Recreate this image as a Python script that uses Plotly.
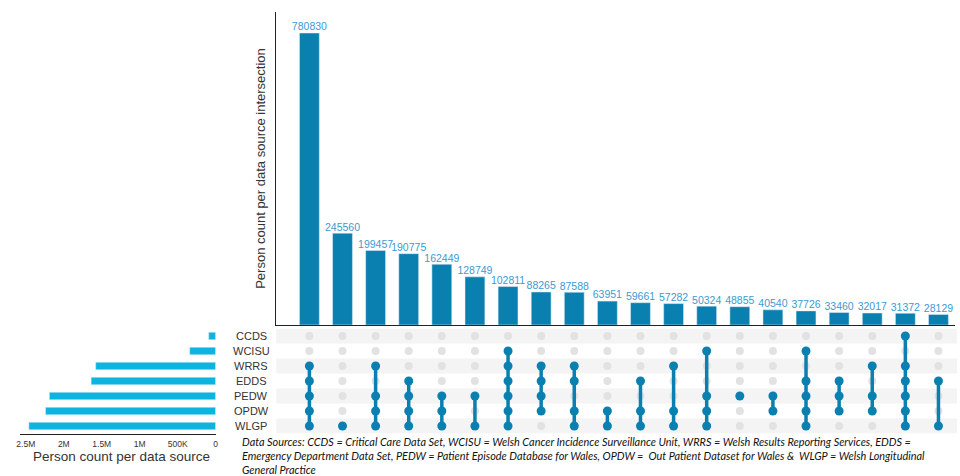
import plotly.graph_objects as go

# ---------------- data ----------------
sets = ["CCDS", "WCISU", "WRRS", "EDDS", "PEDW", "OPDW", "WLGP"]
set_sizes = [92000, 342000, 1580000, 1640000, 2190000, 2240000, 2460000]

intersection_counts = [780830, 245560, 199457, 190775, 162449, 128749, 102811,
                       88265, 87588, 63951, 59661, 57282, 50324, 48855, 40540,
                       37726, 33460, 32017, 31372, 28129]
intersection_members = [
    ["WRRS", "EDDS", "PEDW", "OPDW", "WLGP"],
    ["WLGP"],
    ["WRRS", "PEDW", "OPDW", "WLGP"],
    ["EDDS", "PEDW", "OPDW", "WLGP"],
    ["PEDW", "OPDW", "WLGP"],
    ["PEDW", "WLGP"],
    ["WCISU", "WRRS", "EDDS", "PEDW", "OPDW", "WLGP"],
    ["WRRS", "EDDS", "PEDW", "OPDW"],
    ["WRRS", "EDDS", "OPDW", "WLGP"],
    ["OPDW", "WLGP"],
    ["EDDS", "OPDW", "WLGP"],
    ["WRRS", "OPDW", "WLGP"],
    ["WCISU", "PEDW", "OPDW", "WLGP"],
    ["PEDW"],
    ["PEDW", "OPDW"],
    ["WCISU", "EDDS", "PEDW", "OPDW", "WLGP"],
    ["EDDS", "PEDW", "OPDW"],
    ["WRRS", "PEDW", "OPDW"],
    ["CCDS", "WRRS", "EDDS", "PEDW", "OPDW", "WLGP"],
    ["EDDS", "WLGP"],
]
size_tick_vals = [0, 500000, 1000000, 1500000, 2000000, 2500000]
size_tick_text = ["0", "500K", "1M", "1.5M", "2M", "2.5M"]

footnote = ("<i>Data Sources: CCDS = Critical Care Data Set, WCISU = Welsh Cancer Incidence Surveillance Unit, "
            "WRRS = Welsh Results Reporting Services, EDDS =<br>"
            "Emergency Department Data Set, PEDW = Patient Episode Database for Wales, OPDW =  Out Patient "
            "Dataset for Wales &amp;  WLGP = Welsh Longitudinal<br>General Practice</i>")

# ---------------- layout helpers ----------------
W, H = 960, 476
def fx(px):
    return px / W
def fy(py):
    return 1 - py / H

BAR = "#0a80b0"
HBAR = "#0db4e0"
LABEL = "#3d9ad2"
GREY = "#e2e2e2"
TXT = "#333333"

n = len(intersection_counts)
xs = list(range(n))
row_index = {s: len(sets) - 1 - i for i, s in enumerate(sets)}  # CCDS top, WLGP bottom

fig = go.Figure()

# intersection bars
fig.add_trace(go.Bar(
    x=xs, y=intersection_counts, marker_color=BAR, width=0.6,
    xaxis="x", yaxis="y", showlegend=False,
))
# value labels above bars
fig.add_trace(go.Scatter(
    x=xs, y=intersection_counts, mode="text",
    text=[str(v) for v in intersection_counts], textposition="top center",
    textfont=dict(color=LABEL, size=10.5, family="Liberation Sans, Arial"),
    cliponaxis=False, xaxis="x", yaxis="y", showlegend=False, hoverinfo="skip",
))

# grey background dots
gx, gy = [], []
for i in xs:
    for s in sets:
        gx.append(i)
        gy.append(row_index[s])
fig.add_trace(go.Scatter(
    x=gx, y=gy, mode="markers", marker=dict(color=GREY, size=8),
    xaxis="x2", yaxis="y2", showlegend=False, hoverinfo="skip",
))

# connecting lines + filled dots
for i, members in enumerate(intersection_members):
    ys = sorted(row_index[m] for m in members)
    if len(ys) > 1:
        fig.add_trace(go.Scatter(
            x=[i, i], y=[ys[0], ys[-1]], mode="lines",
            line=dict(color=BAR, width=3.5),
            xaxis="x2", yaxis="y2", showlegend=False, hoverinfo="skip",
        ))
    fig.add_trace(go.Scatter(
        x=[i] * len(ys), y=ys, mode="markers",
        marker=dict(color=BAR, size=9),
        xaxis="x2", yaxis="y2", showlegend=False,
    ))

# set size bars
fig.add_trace(go.Bar(
    y=[row_index[s] for s in sets], x=set_sizes, orientation="h",
    marker_color=HBAR, width=0.5, xaxis="x3", yaxis="y3", showlegend=False,
))

# stripes in matrix
shapes = []
for s in sets:
    r = row_index[s]
    if r % 2 == 0:
        shapes.append(dict(type="rect", xref="paper", yref="y2",
                           x0=fx(275), x1=1, y0=r - 0.5, y1=r + 0.5,
                           fillcolor="#f4f4f4", line=dict(width=0), layer="below"))

annotations = []
for s in sets:
    annotations.append(dict(
        x=fx(250), y=row_index[s], xref="paper", yref="y2", text=s,
        showarrow=False, xanchor="center", yanchor="middle",
        font=dict(size=11, color=TXT, family="Liberation Sans, Arial"),
    ))
annotations.append(dict(
    x=fx(119), y=fy(456), xref="paper", yref="paper",
    text="Person count per data source", showarrow=False,
    xanchor="center", yanchor="middle",
    font=dict(size=13.5, color=TXT, family="Liberation Sans, Arial"),
))
annotations.append(dict(
    x=fx(238), y=fy(433), xref="paper", yref="paper", text=footnote,
    showarrow=False, xanchor="left", yanchor="top", align="left",
    font=dict(size=10.9, color="#111111", family="Lato, sans-serif"),
))

mat_dom = [fy(433.5), fy(328.5)]

fig.update_layout(
    width=W, height=H, margin=dict(l=0, r=0, t=0, b=0),
    paper_bgcolor="white", plot_bgcolor="rgba(0,0,0,0)",
    xaxis=dict(domain=[fx(275), fx(958)], range=[-1, 19.5], showticklabels=False,
               showgrid=False, zeroline=False, showline=True, linecolor="#222222",
               anchor="y", ticks=""),
    yaxis=dict(domain=[fy(325), fy(12)], range=[0, 837000], showticklabels=False,
               showgrid=False, zeroline=False, showline=True, linecolor="#222222",
               anchor="x", ticks="",
               title=dict(text="Person count per data source intersection",
                          font=dict(size=13, color=TXT, family="Liberation Sans, Arial"),
                          standoff=6)),
    xaxis2=dict(domain=[fx(275), fx(958)], range=[-1, 19.5], showticklabels=False,
                showgrid=False, zeroline=False, showline=False, anchor="y2"),
    yaxis2=dict(domain=mat_dom, range=[-0.5, 6.5], showticklabels=False,
                showgrid=False, zeroline=False, showline=False, anchor="x2"),
    xaxis3=dict(domain=[fx(17), fx(214)], range=[2578000, 0],
                tickvals=size_tick_vals, ticktext=size_tick_text,
                tickfont=dict(size=8.5, color=TXT, family="Liberation Sans, Arial"),
                showgrid=False, zeroline=False, showline=True, linecolor="#222222",
                ticks="", anchor="y3", ticklabelstandoff=2),
    yaxis3=dict(domain=mat_dom, range=[-0.5, 6.5], showticklabels=False,
                showgrid=False, zeroline=False, showline=False, anchor="x3"),
    shapes=shapes, annotations=annotations,
)

fig.write_html("out.html", config={"displayModeBar": False},
               post_script="document.body.style.margin='0';document.body.style.overflow='hidden';")
